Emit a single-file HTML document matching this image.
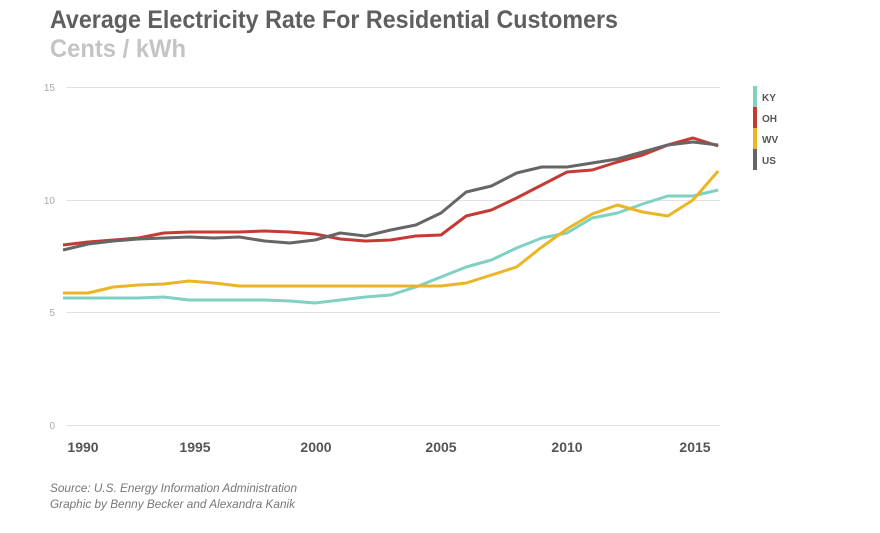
<!DOCTYPE html>
<html><head><style>
body{margin:0;background:#fff;width:880px;height:528px;overflow:hidden;font-family:"Liberation Sans",sans-serif;}
</style></head><body>
<svg width="880" height="528" xmlns="http://www.w3.org/2000/svg" font-family="Liberation Sans, sans-serif">
<text x="50" y="28" font-size="25" font-weight="bold" fill="#5f5f5f" textLength="568" lengthAdjust="spacingAndGlyphs">Average Electricity Rate For Residential Customers</text>
<text x="50" y="57" font-size="25" font-weight="bold" fill="#c4c4c4" textLength="136" lengthAdjust="spacingAndGlyphs">Cents / kWh</text>
<g stroke="#e2e2e2" stroke-width="1">
<line x1="66" y1="87.5" x2="720" y2="87.5"/><line x1="66" y1="200.5" x2="720" y2="200.5"/>
<line x1="66" y1="312.5" x2="720" y2="312.5"/><line x1="66" y1="425.5" x2="720" y2="425.5"/>
</g>
<g font-size="10" fill="#aaa" text-anchor="end">
<text x="55" y="91">15</text><text x="55" y="204">10</text><text x="55" y="316">5</text><text x="55" y="429">0</text>
</g>
<g font-size="14" font-weight="bold" fill="#555" text-anchor="middle">
<text x="83" y="452">1990</text><text x="195" y="452">1995</text><text x="316" y="452">2000</text>
<text x="441" y="452">2005</text><text x="567" y="452">2010</text><text x="695" y="452">2015</text>
</g>
<g font-size="12" font-style="italic" fill="#777">
<text x="50" y="492" textLength="247" lengthAdjust="spacingAndGlyphs">Source: U.S. Energy Information Administration</text>
<text x="50" y="508" textLength="245" lengthAdjust="spacingAndGlyphs">Graphic by Benny Becker and Alexandra Kanik</text>
</g>
<g fill="none" stroke-width="3" stroke-linejoin="round" id="lines"></g>
<rect x="753" y="86" width="4" height="21" fill="#7fd1c1"/>
<rect x="753" y="107" width="4" height="21" fill="#c63a36"/>
<rect x="753" y="128" width="4" height="21" fill="#ebb525"/>
<rect x="753" y="149" width="4" height="21" fill="#666"/>
<g font-size="10" font-weight="bold" fill="#555">
<text x="762" y="101">KY</text><text x="762" y="122">OH</text><text x="762" y="143">WV</text><text x="762" y="164">US</text>
</g>
</svg>
<script>
var d={
"#7fd1c1":[298,298,298,298,297,300,300,300,300,301,303,300,297,295,287,277,267,260,248,238,233,218,213,204,196,196,190],
"#ebb525":[293,293,287,285,284,281,283,286,286,286,286,286,286,286,286,286,283,275,267,247,229,214,205,212,216,200,171],
"#c63a36":[245,242,240,238,233,232,232,232,231,232,234,239,241,240,236,235,216,210,198,185,172,170,162,155,145,138,146],
"#666666":[250,244,241,239,238,237,238,237,241,243,240,233,236,230,225,213,192,186,173,167,167,163,159,152,145,142,145]};
var g=document.getElementById('lines');
for(var c in d){var p=d[c].map(function(y,i){return (63+25.2*i).toFixed(1)+','+y}).join(' ');
var e=document.createElementNS('http://www.w3.org/2000/svg','polyline');e.setAttribute('points',p);e.setAttribute('stroke',c);g.appendChild(e);}
</script>
</body></html>
